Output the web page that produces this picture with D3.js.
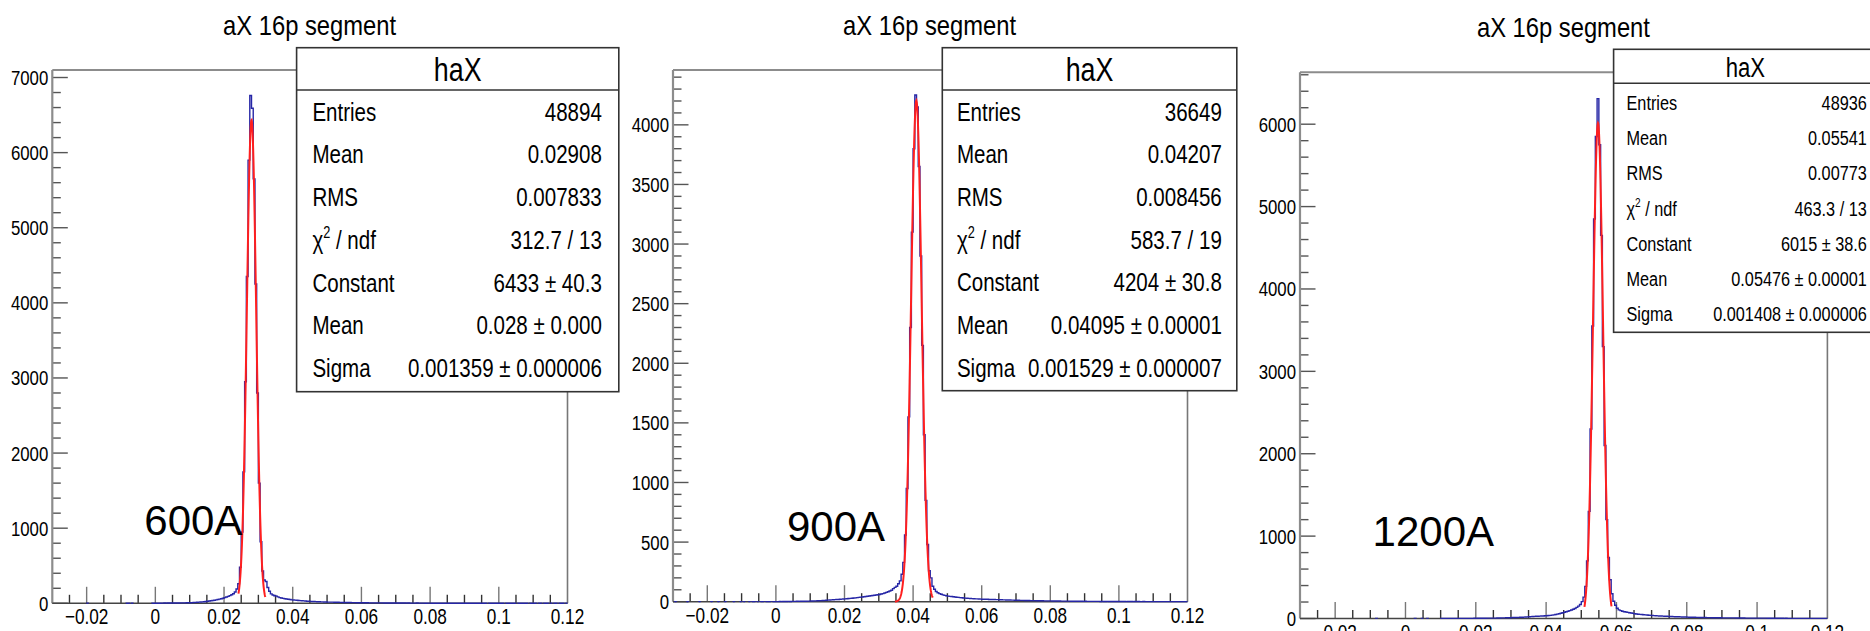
<!DOCTYPE html>
<html><head><meta charset="utf-8">
<script src="https://cdn.jsdelivr.net/npm/d3@7"></script>
<style>
body{margin:0;background:#fff}
svg{display:block}
text{font-family:"Liberation Sans",Arial,Helvetica,sans-serif;fill:#000}
</style>
</head><body>
<svg id="c" width="1870" height="631"></svg>
<script>
// ---------- data ----------
const binStart = -0.03, binWidth = 0.0005;   // 300 bins, -0.03 .. 0.12
const counts600 = [
 0,0,0,0,0,0,0,0,0,0,0,0,0,0,0,0,0,0,0,0,
 1,0,0,0,0,0,0,0,0,0,0,0,0,0,0,0,0,0,0,0,
 0,0,0,1,1,0,1,0,0,0,0,0,0,0,0,0,0,0,1,1,
 1,2,1,2,2,3,2,3,3,4,3,4,5,4,5,6,5,6,7,7,
 8,9,10,12,13,15,17,19,21,24,27,30,33,37,41,45,50,55,61,67,
 75,83,92,102,114,128,150,190,260,480,950,1750,2950,4350,5900,6760,6590,5650,4250,2800,
 1600,820,430,310,290,210,160,125,110,100,95,85,75,70,65,60,58,54,50,46,
 44,42,40,37,35,33,32,30,28,27,25,24,23,22,21,20,19,19,18,17,
 16,16,15,15,14,13,13,12,12,11,11,10,10,10,9,9,9,8,8,8,
 8,7,7,7,6,6,6,6,5,5,5,5,5,4,4,4,4,4,4,3,
 3,3,3,3,3,3,2,3,2,2,2,2,3,2,2,2,2,1,2,2,
 2,1,2,1,1,2,1,1,1,2,1,1,1,1,1,2,1,1,1,1,
 1,1,1,1,1,1,1,1,1,1,1,1,1,0,1,1,1,1,1,1,
 1,1,1,0,1,1,1,1,1,1,0,1,1,1,1,1,1,0,1,1,
 1,1,0,1,1,0,1,1,1,0,1,0,1,1,0,1,1,1,0,1
];
const counts900 = [
 0,1,0,0,0,0,0,0,1,0,0,0,0,0,0,1,0,0,0,0,
 0,0,1,0,0,0,1,0,0,0,1,0,0,0,0,1,0,0,0,1,
 0,1,0,0,1,0,1,1,0,1,0,1,1,0,1,1,1,0,1,1,
 1,1,2,1,2,2,2,3,2,3,3,3,4,3,4,4,5,4,5,5,
 6,6,7,7,8,9,9,10,11,12,13,14,15,16,17,18,19,20,22,23,
 24,25,27,28,29,31,32,34,36,38,40,42,44,46,48,50,52,54,56,58,
 60,64,68,73,78,84,90,96,110,120,130,150,175,230,330,560,950,1550,2300,3100,
 3800,4250,4150,3650,2900,2150,1400,850,480,260,200,130,105,85,75,68,62,57,53,50,
 47,45,43,41,39,37,36,34,33,31,30,29,28,27,26,25,24,24,23,22,
 21,21,20,20,19,19,18,18,17,17,16,16,15,15,14,14,14,13,13,12,
 12,12,11,11,11,10,10,10,9,9,9,9,8,8,8,8,7,7,7,7,
 7,6,6,6,6,6,5,5,5,5,5,5,4,4,4,4,4,4,4,3,
 4,3,3,3,3,3,3,3,3,2,3,2,2,3,2,2,2,2,2,2,
 2,2,2,2,1,2,2,2,1,2,1,2,1,1,2,1,1,1,1,1,
 1,1,1,1,1,1,1,1,1,1,1,1,1,1,1,1,1,1,1,1
];
const counts1200 = [
 0,0,0,0,0,0,0,0,0,0,0,0,0,0,0,0,0,0,0,0,
 0,0,0,0,0,0,0,0,0,0,0,0,0,0,0,0,0,0,0,0,
 0,0,0,1,0,0,0,0,0,0,0,0,0,0,0,0,0,0,0,0,
 0,0,0,0,0,1,0,0,0,1,0,0,1,0,0,0,0,0,0,0,
 1,1,1,1,1,1,1,1,1,1,2,1,2,1,2,2,2,2,2,3,
 2,3,3,3,3,3,4,4,4,4,5,5,6,6,7,7,8,9,9,10,
 11,12,12,13,14,15,16,17,18,20,22,23,24,26,27,28,29,30,31,33,
 34,36,38,41,44,48,53,58,64,70,76,82,88,95,103,112,122,135,150,170,
 205,260,390,700,1300,2300,3550,4850,5850,6310,5750,4650,3300,2100,1200,740,470,300,210,160,
 125,105,95,88,82,78,74,70,66,62,58,55,52,50,48,46,44,42,40,38,
 36,35,33,32,31,30,29,28,27,26,25,24,23,22,21,21,20,19,18,18,
 17,16,16,15,15,14,14,13,13,12,12,11,11,11,10,10,10,9,9,9,
 8,8,8,8,7,7,7,7,6,6,6,6,6,5,5,5,5,5,5,4,
 4,4,4,4,4,4,3,3,3,3,3,3,3,3,3,2,3,2,2,2,
 2,2,2,2,2,2,2,2,2,2,1,2,1,2,1,1,1,1,1,1
];
const xDomain = [-0.03, 0.12];
const xTicks = [-0.02, 0, 0.02, 0.04, 0.06, 0.08, 0.1, 0.12];
const xTickLabels = ["\u22120.02","0","0.02","0.04","0.06","0.08","0.1","0.12"];
const xMinorStep = 0.005;
const yMax = [7100, 4460, 6630];
const yTicks600 = [0,1000,2000,3000,4000,5000,6000,7000];
const yTicks900 = [0,500,1000,1500,2000,2500,3000,3500,4000];
const yTicks1200 = [0,1000,2000,3000,4000,5000,6000];
const yMinorStep = [200, 100, 200];
const fitConst = [6433, 4204, 6015];
const fitMean = [0.028, 0.04095, 0.05476];
const fitSigma = [0.001359, 0.001529, 0.001408];
const fitLo = [0.0242, 0.0347, 0.0509];
const fitHi = [0.0320, 0.0457, 0.0586];
const titles = ["aX 16p segment","aX 16p segment","aX 16p segment"];
const statTitle = "haX";
const statNames = ["Entries","Mean","RMS","\u03C7\u00B2 / ndf","Constant","Mean","Sigma"];
const stats600 = ["48894","0.02908","0.007833","312.7 / 13","6433 \u00B1 40.3","0.028 \u00B1 0.000","0.001359 \u00B1 0.000006"];
const stats900 = ["36649","0.04207","0.008456","583.7 / 19","4204 \u00B1 30.8","0.04095 \u00B1 0.00001","0.001529 \u00B1 0.000007"];
const stats1200 = ["48936","0.05541","0.00773","463.3 / 13","6015 \u00B1 38.6","0.05476 \u00B1 0.00001","0.001408 \u00B1 0.000006"];
const currentLabels = ["600A","900A","1200A"];

// ---------- layout ----------
const layout = [
 {fl:52.3, fr:567.5, ft:70, fb:603.3, tx:309.6, ty:34.5, box:[296.6,47.7,618.8,391.7], sep:90, hy:81, lx:312.4, vx:601.8, r0:120.7, rs:42.7, fs:26, hfs:34, cx:144.3, cy:535},
 {fl:673, fr:1187.5, ft:70, fb:601.7, tx:929.6, ty:34.5, box:[942.3,47.7,1236.8,390.7], sep:90, hy:81, lx:956.9, vx:1221.8, r0:120.5, rs:42.7, fs:26, hfs:34, cx:787, cy:541},
 {fl:1300, fr:1827.4, ft:72.3, fb:618.5, tx:1563.4, ty:37, box:[1613.6,49.3,1877,332.3], sep:83.3, hy:77.3, lx:1626.5, vx:1866.8, r0:110, rs:35.2, fs:20.6, hfs:28, cx:1372.6, cy:546}
];
const countsAll = [counts600, counts900, counts1200];
const yTicksAll = [yTicks600, yTicks900, yTicks1200];
const statsAll = [stats600, stats900, stats1200];
const SX = 0.79;

const svg = d3.select("#c");
svg.append("rect").attr("width",1870).attr("height",631).attr("fill","#fff");

function ctext(g, x, y, str, size, sx, anchor){
  return g.append("text").attr("transform",`translate(${x},${y}) scale(${sx},1)`)
    .attr("text-anchor",anchor).attr("font-size",size).text(str);
}

layout.forEach((L, k) => {
  const g = svg.append("g");
  const x = d3.scaleLinear().domain(xDomain).range([L.fl, L.fr]);
  const y = d3.scaleLinear().domain([0, yMax[k]]).range([L.fb, L.ft]);
  const counts = countsAll[k];

  // frame
  g.append("line").attr("x1",L.fl).attr("x2",L.fr).attr("y1",L.ft).attr("y2",L.ft).attr("stroke","#8c8c8c").attr("stroke-width",2);
  g.append("line").attr("x1",L.fr).attr("x2",L.fr).attr("y1",L.ft).attr("y2",L.fb).attr("stroke","#777").attr("stroke-width",1.6);

  // x axis ticks (inside, upward)
  const xMinor = d3.range(Math.round((xDomain[1]-xDomain[0])/xMinorStep)+1)
      .map(i => xDomain[0] + i*xMinorStep).filter(v => v > xDomain[0]+1e-9 && v < xDomain[1]-1e-9);
  const xAx = d3.axisBottom(x).tickValues(xMinor).tickSize(0).tickFormat("");
  const gx = g.append("g").attr("transform",`translate(0,${L.fb})`).call(xAx);
  gx.select(".domain").remove();
  gx.selectAll(".tick line").remove();
  xMinor.forEach(v => {
    const major = xTicks.some(t => Math.abs(t - v) < 1e-9);
    g.append("line").attr("x1",x(v)).attr("x2",x(v)).attr("y1",L.fb).attr("y2",L.fb - (major?16.5:8.5))
      .attr("stroke", major ? "#777" : "#333").attr("stroke-width",1.4);
  });
  xTicks.forEach((t,i) => {
    ctext(g, x(t), L.fb + 21, xTickLabels[i], 21.5, 0.8, "middle");
  });

  // y axis
  const yMinor = d3.range(0, yMax[k]+1e-6, yMinorStep[k]);
  yMinor.forEach(v => {
    const major = yTicksAll[k].includes(v);
    g.append("line").attr("x1",L.fl).attr("x2",L.fl + (major?15.5:8.5)).attr("y1",y(v)).attr("y2",y(v))
      .attr("stroke", "#555").attr("stroke-width",1.4);
  });
  yTicksAll[k].forEach(t => {
    ctext(g, L.fl - 4, y(t) + 7.5, String(t), 21, 0.8, "end");
  });
  g.append("line").attr("x1",L.fl).attr("x2",L.fl).attr("y1",L.ft).attr("y2",L.fb).attr("stroke","#8c8c8c").attr("stroke-width",2.2);
  g.append("line").attr("x1",L.fl).attr("x2",L.fr).attr("y1",L.fb).attr("y2",L.fb).attr("stroke","#444").attr("stroke-width",1.6);

  // histogram
  const p = d3.path();
  let pen = false;
  counts.forEach((c, i) => {
    const e0 = binStart + i*binWidth, e1 = e0 + binWidth;
    if (c > 0) {
      if (!pen) { p.moveTo(x(e0), y(0)); pen = true; }
      p.lineTo(x(e0), y(c)); p.lineTo(x(e1), y(c));
    } else if (pen) {
      p.lineTo(x(e0), y(0)); pen = false;
    }
  });
  g.append("path").attr("d", p.toString()).attr("fill","none").attr("stroke","#2626a6").attr("stroke-width",1.4);

  // fit
  const pts = d3.range(0, 101).map(i => fitLo[k] + (fitHi[k]-fitLo[k])*i/100);
  const gauss = v => fitConst[k]*Math.exp(-0.5*Math.pow((v-fitMean[k])/fitSigma[k],2));
  g.append("path").attr("d", d3.line().x(v => x(v)).y(v => y(gauss(v)))(pts))
    .attr("fill","none").attr("stroke","#ff1f1f").attr("stroke-width",2);

  // title
  ctext(g, L.tx, L.ty, titles[k], 27, 0.88, "middle");

  // stats box
  const b = L.box;
  g.append("rect").attr("x",b[0]).attr("y",b[1]).attr("width",b[2]-b[0]).attr("height",b[3]-b[1])
    .attr("fill","#fff").attr("stroke","#333").attr("stroke-width",1.6);
  g.append("line").attr("x1",b[0]).attr("x2",b[2]).attr("y1",L.sep).attr("y2",L.sep).attr("stroke","#333").attr("stroke-width",1.6);
  ctext(g, (b[0]+b[2])/2, L.hy, statTitle, L.hfs, SX, "middle");
  statNames.forEach((n, j) => {
    const yy = L.r0 + j*L.rs;
    if (n.startsWith("\u03C7")) {
      const t = g.append("text").attr("transform",`translate(${L.lx},${yy}) scale(${SX},1)`).attr("font-size",L.fs);
      t.append("tspan").text("\u03C7");
      t.append("tspan").attr("font-size",L.fs*0.62).attr("dy",-L.fs*0.42).text("2");
      t.append("tspan").attr("dy",L.fs*0.42).text(" / ndf");
    } else {
      ctext(g, L.lx, yy, n, L.fs, SX, "start");
    }
    ctext(g, L.vx, yy, statsAll[k][j], L.fs, SX, "end");
  });

  // current label
  g.append("text").attr("x",L.cx).attr("y",L.cy).attr("font-family","Lato, 'Open Sans', sans-serif")
    .attr("font-size",42).text(currentLabels[k]);
});
</script>
</body></html>
